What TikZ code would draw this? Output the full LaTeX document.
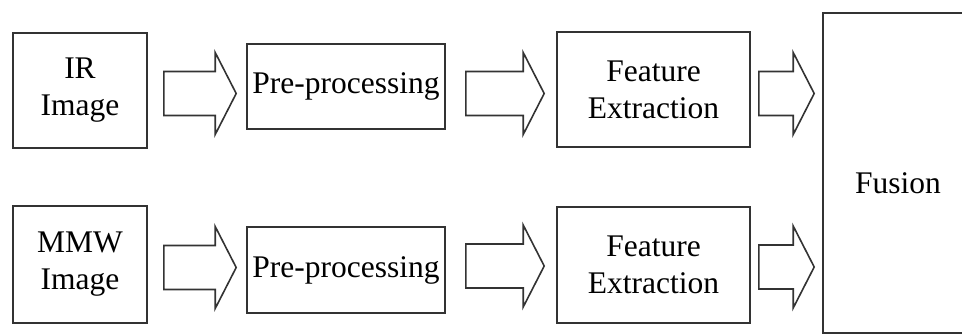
\documentclass[tikz,border=0pt]{standalone}
\usepackage{fontspec}
\setmainfont{Liberation Serif}
\usetikzlibrary{calc}

\tikzset{
  box/.style={draw=black!80, line width=1.6pt, fill=white, align=center,
              inner sep=0pt, font=\fontsize{31.5}{37}\selectfont},
  fat/.style={draw=black!80, line width=1.6pt, fill=white, line join=miter},
  lbl/.style={font=\fontsize{31.5}{37}\selectfont, inner sep=0pt}
}

% block arrow from #1 to #2; #3 gap after source, #4 gap before target, #5 vertical offset
\newcommand{\fatarrow}[5]{%
  \draw[fat] let \p1=(#1.east), \p2=(#2.west),
    \n1={\x1+#3}, \n2={\x2-#4}, \n3={\y1-#5} in
    ({\n1},{\n3+22pt}) -- ({\n2-21pt},{\n3+22pt}) -- ({\n2-21pt},{\n3+41pt})
    -- ({\n2},{\n3}) -- ({\n2-21pt},{\n3-41pt}) -- ({\n2-21pt},{\n3-22pt})
    -- ({\n1},{\n3-22pt}) -- cycle;}

\begin{document}
\begin{tikzpicture}[x=1pt,y=-1pt]
  \clip (0,0) rectangle (962,334);
  \fill[white] (0,0) rectangle (962,334);

  % top row
  \node[box, minimum width=134pt, minimum height=115pt] (ir)  at (80,90.5)  {IR\\Image};
  \node[box, minimum width=198pt, minimum height=85pt]  (pre1) at (346,86.5) {Pre-processing};
  \node[box, minimum width=193pt, minimum height=115pt] (fe1) at (653.5,89.5) {Feature\\Extraction};

  % bottom row
  \node[box, minimum width=134pt, minimum height=117pt] (mmw) at (80,264.5) {MMW\\Image};
  \node[box, minimum width=198pt, minimum height=86pt]  (pre2) at (346,270) {Pre-processing};
  \node[box, minimum width=193pt, minimum height=116pt] (fe2) at (653.5,265) {Feature\\Extraction};

  % fusion block (runs past the right edge)
  \node[box, minimum width=200pt, minimum height=320pt] (fusion) at (923,173) {};
  \node[lbl] (fusiontext) at (898,183) {Fusion};

  % block arrows
  \fatarrow{ir}{pre1}{16pt}{10pt}{3pt}
  \fatarrow{pre1}{fe1}{20pt}{12pt}{7pt}
  \fatarrow{fe1}{fusion}{8pt}{8pt}{4pt}
  \fatarrow{mmw}{pre2}{16pt}{10pt}{3pt}
  \fatarrow{pre2}{fe2}{20pt}{12pt}{-4pt}
  \fatarrow{fe2}{fusion}{8pt}{8pt}{2pt}
\end{tikzpicture}
\end{document}
